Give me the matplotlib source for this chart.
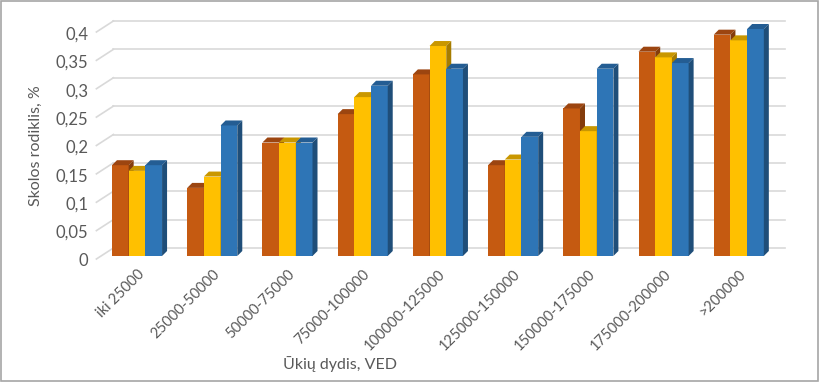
import matplotlib
matplotlib.use("Agg")
import matplotlib.pyplot as plt
from matplotlib.patches import Polygon, Rectangle
from matplotlib.transforms import ScaledTranslation

# data
categories = ["iki 25000", "25000-50000", "50000-75000", "75000-100000",
              "100000-125000", "125000-150000", "150000-175000",
              "175000-200000", ">200000"]
series_a = [0.16, 0.12, 0.20, 0.25, 0.32, 0.16, 0.26, 0.36, 0.39]
series_b = [0.15, 0.14, 0.20, 0.28, 0.37, 0.17, 0.22, 0.35, 0.38]
series_c = [0.16, 0.23, 0.20, 0.30, 0.33, 0.21, 0.33, 0.34, 0.40]
yticks = [0, 0.05, 0.1, 0.15, 0.2, 0.25, 0.3, 0.35, 0.4]

plt.rcParams['font.family'] = ['Lato', 'DejaVu Sans']
txt = "#595959"

W, H = 820, 382
fig = plt.figure(figsize=(W / 100, H / 100), dpi=100)
ax_l, ax_b, ax_w, ax_h = 99.4, 126, 677, 227
ax = fig.add_axes([ax_l / W, ax_b / H, ax_w / W, ax_h / H])
ax.set_xlim(-0.5, 8.5)
ax.set_ylim(0, 0.4)

# pixel -> data conversion
px_x = 9 / ax_w
px_y = 0.4 / ax_h

# back-wall gridlines with depth
gdx, gdy = 14 * px_x, 8 * px_y
for t in yticks:
    ax.plot([-0.5 - 3 * px_x, -0.5 + gdx], [t - 3 * px_y, t + gdy], color="#D9D9D9",
            lw=1.2, clip_on=False, zorder=0)
    ax.plot([-0.5 + gdx, 8.5 + 0.12], [t + gdy, t + gdy], color="#D9D9D9",
            lw=1.2, clip_on=False, zorder=0)

bw = 0.222
dx, dy = 5 * px_x, 5 * px_y
styles = [
    (series_a, -bw, "#C55A11", "#9C4510", "#843C0C"),
    (series_b, 0, "#FFC000", "#C99700", "#A67C00"),
    (series_c, bw, "#2E75B6", "#245D93", "#1F4E79"),
]
z = 2
for vals, off, front, top, side in styles:
    for i, v in enumerate(vals):
        x0 = i + off - bw / 2
        x1 = i + off + bw / 2
        ax.bar(i + off, v, width=bw, color=front, zorder=z)
        ax.add_patch(Polygon([(x0, v), (x1, v), (x1 + dx, v + dy), (x0 + dx, v + dy)],
                             closed=True, facecolor=top, edgecolor="none",
                             zorder=z, clip_on=False))
        ax.add_patch(Polygon([(x1, 0), (x1 + dx, dy), (x1 + dx, v + dy), (x1, v)],
                             closed=True, facecolor=side, edgecolor="none",
                             zorder=z, clip_on=False))
    z += 1

for s in ax.spines.values():
    s.set_visible(False)
ax.set_yticks(yticks)
ax.set_yticklabels([("%g" % t).replace(".", ",") for t in yticks])
ax.set_xticks(range(len(categories)))
ax.set_xticklabels(categories, rotation=45, ha="right", rotation_mode="anchor")
ax.tick_params(axis="both", length=0, colors=txt)
ax.tick_params(axis="y", pad=8, labelsize=12)
ax.tick_params(axis="x", pad=8, labelsize=10.5)
shift = ScaledTranslation(0, -4 / 100, fig.dpi_scale_trans)
for lab in ax.get_yticklabels():
    lab.set_transform(lab.get_transform() + shift)

ax.set_ylabel("Skolos rodiklis, %", color=txt, fontsize=11.5)
ax.yaxis.set_label_coords((43 - ax_l) / ax_w, 0.485)
ax.set_xlabel("Ūkių dydis, VED", color=txt, fontsize=11.5)
ax.xaxis.set_label_coords((340 - ax_l) / ax_w, -(364 - 256) / ax_h)
ax.xaxis.label.set_va("center")

fig.patches.append(Rectangle((0.001, 0.002), 0.997, 0.995, transform=fig.transFigure,
                             fill=False, edgecolor="#A6A6A6", lw=1.2))

fig.savefig("out.png", dpi=100)
